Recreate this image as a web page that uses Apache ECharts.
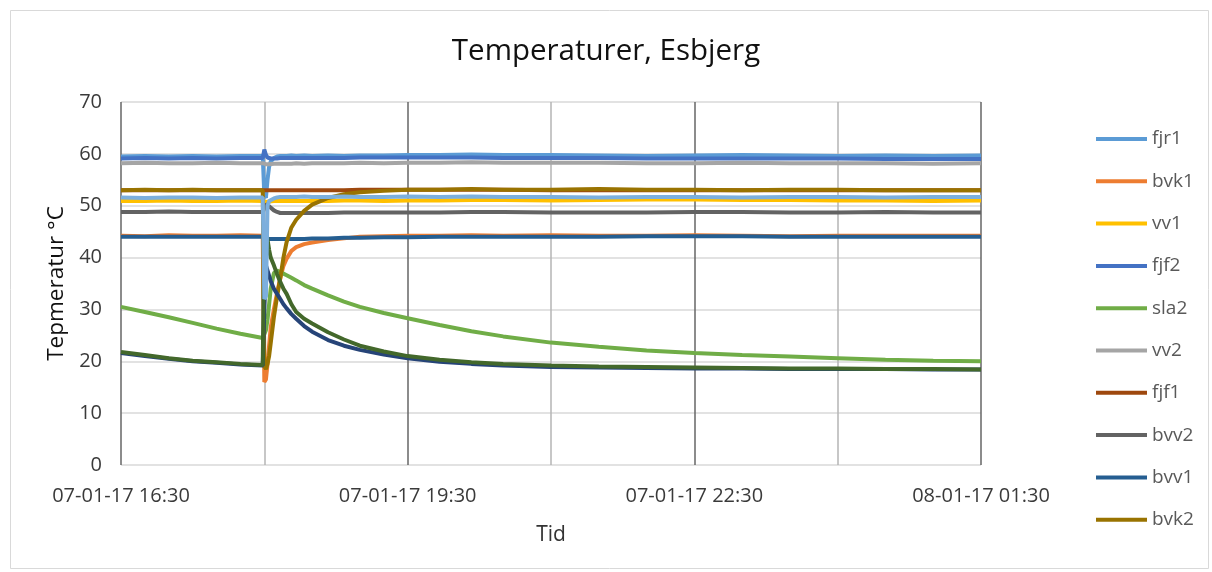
<!DOCTYPE html>
<html>
<head>
<meta charset="utf-8">
<script src="https://cdn.jsdelivr.net/npm/echarts@6/dist/echarts.min.js"></script>
<style>
html,body{margin:0;padding:0;background:#fff;}
#c{width:1212px;height:572px;}
</style>
</head>
<body>
<div id="c"></div>
<script>
// time in minutes after 07-01-17 16:30
const times = [0,15,30,45,60,75,89,90,91,92,93,94,96,98,100,102,104,107,110,115,120,130,140,150,165,180,200,220,240,270,300,330,360,390,420,450,480,510,540];
const tickLabels = ['07-01-17 16:30','07-01-17 19:30','07-01-17 22:30','08-01-17 01:30'];

const fjr1 = [59.5,59.6,59.5,59.6,59.5,59.6,59.6, 52,51.5,55,57.5,58.5, 59.2,59.5,59.6,59.6,59.6, 59.7,59.6,59.7,59.6, 59.7,59.6,59.7,59.7,59.8, 59.8,59.9,59.8,59.8,59.7, 59.6,59.7,59.8,59.7,59.6, 59.7,59.6,59.7];
const bvk1 = [44.2,44.1,44.3,44.2,44.2,44.3,44.2, 16,16.5,19.5,23,26.5, 30,33.2,36,38.4,39.8, 41.3,42,42.6,42.9, 43.4,43.7,44,44.1,44.2, 44.2,44.3,44.2,44.3,44.2, 44.2,44.3,44.2,44.1,44.2, 44.2,44.2,44.2];
const vv1 = [50.9,50.9,51.0,50.9,50.9,51.0,50.9, 50.8,50.7,50.7,50.8,50.8, 50.9,50.9,50.9,50.9,50.9, 50.9,50.9,50.9,50.9, 50.9,51.0,51.0,50.9,51.0, 51.0,51.1,51.1,51.0,51.1, 51.2,51.2,51.1,51.1,51.0, 51.0,50.9,51.0];
const fjf2 = [59.1,59.2,59.1,59.2,59.1,59.2,59.2, 60.8,59.8,59.3,59.2,59.1, 59.1,59.1,59.2,59.2,59.2, 59.2,59.2,59.2,59.2, 59.2,59.2,59.3,59.3,59.3, 59.3,59.3,59.2,59.2,59.2, 59.1,59.1,59.1,59.1,59.1, 59.0,59.0,59.0];
const sla2 = [30.5,29.5,28.5,27.4,26.3,25.3,24.5, 24.4,26,28,31,34, 37,37.5,37.2,36.9,36.6, 36.1,35.6,34.7,34, 32.7,31.5,30.5,29.3,28.3, 27,25.8,24.8,23.6,22.8, 22.1,21.6,21.2,20.9,20.6, 20.3,20.1,20.0];
const vv2 = [58.2,58.3,58.2,58.2,58.3,58.2,58.2, 58.1,58.0,58.0,58.0,58.1, 58.1,58.1,58.1,58.1,58.1, 58.1,58.2,58.1,58.2, 58.2,58.2,58.3,58.2,58.3, 58.3,58.4,58.3,58.3,58.3, 58.2,58.2,58.3,58.2,58.2, 58.2,58.1,58.2];
const fjf1 = [53.0,53.0,53.0,53.0,53.0,53.0,53.0, 53.0,53.0,53.0,53.0,53.0, 53.0,53.0,53.0,53.0,53.0, 53.0,53.0,53.0,53.0, 53.0,53.0,53.1,53.1,53.1, 53.1,53.1,53.1,53.0,53.0, 53.0,53.0,53.0,53.0,53.0, 53.0,53.0,53.0];
const bvv2 = [48.8,48.8,48.9,48.8,48.8,48.8,48.8, 49.5,50.3,50.2,49.9,49.6, 49.1,48.8,48.6,48.6,48.6, 48.6,48.6,48.6,48.6, 48.6,48.7,48.7,48.7,48.7, 48.7,48.8,48.8,48.7,48.7, 48.7,48.8,48.8,48.7,48.7, 48.8,48.7,48.7];
const bvv1 = [44.0,44.0,44.0,44.0,44.0,44.0,44.0, 43.8,43.6,43.6,43.6,43.6, 43.6,43.6,43.6,43.6,43.6, 43.6,43.6,43.6,43.7, 43.7,43.8,43.8,43.9,43.9, 44.0,44.0,44.0,44.0,44.0, 44.1,44.1,44.1,44.0,44.0, 44.0,44.0,44.0];
const bvk2 = [53.0,53.1,53.0,53.1,53.0,53.0,53.0, 19,18.5,19.5,21,23.5, 28.5,32.5,36,40,43, 45.8,47.3,49,50.2, 51.5,52.2,52.6,52.9,53.1, 53.1,53.2,53.1,53.1,53.2, 53.1,53.1,53.0,53.1,53.1, 53.0,53.0,53.0];
const serie11 = [21.6,21.0,20.5,20.0,19.7,19.4,19.2, 30,38.5,37.5,36.5,35.5, 34,33,32,31,30.2, 29.1,28.2,26.8,25.7, 24.1,23.0,22.2,21.3,20.6, 19.9,19.5,19.2,18.9,18.8, 18.7,18.6,18.6,18.5,18.5, 18.5,18.4,18.4];
const serie12 = [21.8,21.2,20.6,20.1,19.8,19.5,19.3, 46,45,43.5,41.5,40, 38.5,36.8,35.3,34,33, 31,29.5,28.2,27.3, 25.6,24.2,23,21.9,21, 20.3,19.8,19.5,19.2,19, 18.9,18.8,18.7,18.6,18.6, 18.5,18.5,18.4];
const serie13 = [51.6,51.5,51.6,51.6,51.5,51.6,51.6, 32,32.5,50,50.9,51.1, 51.4,51.6,51.7,51.7,51.7, 51.7,51.7,51.8,51.7, 51.7,51.8,51.7,51.7,51.8, 51.7,51.8,51.7,51.7,51.6, 51.7,51.7,51.6,51.7,51.7, 51.6,51.7,51.7];

const legendNames = ['fjr1','bvk1','vv1','fjf2','sla2','vv2','fjf1','bvv2','bvv1','bvk2'];
const seriesList = [
  ['fjr1', fjr1, '#5B9BD5'],
  ['bvk1', bvk1, '#ED7D31'],
  ['vv1', vv1, '#FFC000'],
  ['fjf2', fjf2, '#4472C4'],
  ['sla2', sla2, '#70AD47'],
  ['vv2', vv2, '#A5A5A5'],
  ['fjf1', fjf1, '#9E480E'],
  ['bvv2', bvv2, '#636363'],
  ['bvv1', bvv1, '#255E91'],
  ['bvk2', bvk2, '#997300'],
  ['serie11', serie11, '#264478'],
  ['serie12', serie12, '#43682B'],
  ['serie13', serie13, '#7CAFDD']
];

const chart = echarts.init(document.getElementById('c'), null, {renderer:'canvas'});
const FONT = 'Open Sans';
chart.setOption({
  animation: false,
  backgroundColor: '#fff',
  graphic: [{
    type: 'rect', left: 8, top: 8, shape: {width: 1198, height: 558},
    style: {fill: 'none', stroke: '#d9d9d9', lineWidth: 1}, silent: true, z: -10
  }],
  title: {
    text: 'Temperaturer, Esbjerg', left: 'center', top: 32,
    textStyle: {fontFamily: FONT, fontSize: 29.5, fontWeight: 'normal', color: '#111'}
  },
  legend: {
    data: legendNames, orient: 'vertical', left: 1091, top: 124,
    itemWidth: 51, itemHeight: 4, itemGap: 22.3, icon: 'rect',
    textStyle: {fontFamily: FONT, fontSize: 19, color: '#595959', lineHeight: 20}
  },
  grid: {left: 121, right: 231, top: 102, bottom: 107, containLabel: false},
  xAxis: {
    type: 'value', min: 0, max: 540, interval: 90,
    name: 'Tid', nameLocation: 'middle', nameGap: 60,
    nameTextStyle: {fontFamily: FONT, fontSize: 21, color: '#333'},
    axisLine: {show: false}, axisTick: {show: false},
    axisLabel: {
      fontFamily: FONT, fontSize: 20, color: '#3a3a3a', margin: 21,
      formatter: function (v) { return v % 180 === 0 ? tickLabels[v / 180] : ''; }
    },
    splitLine: {show: true, lineStyle: {color: ['#666666', '#b4b4b4'], width: 1.5}}
  },
  yAxis: {
    type: 'value', min: 0, max: 70, interval: 10,
    name: 'Tepmeratur °C', nameLocation: 'middle', nameGap: 51, nameRotate: 90,
    nameTextStyle: {fontFamily: FONT, fontSize: 22.5, color: '#111'},
    axisLine: {show: false}, axisTick: {show: false},
    axisLabel: {fontFamily: FONT, fontSize: 20, color: '#3a3a3a', margin: 19},
    splitLine: {show: true, lineStyle: {color: '#d9d9d9', width: 1.5}}
  },
  series: seriesList.map(function (s) {
    return {
      name: s[0], type: 'line', showSymbol: false, symbol: 'none',
      data: times.map(function (t, i) { return [t, s[1][i]]; }),
      lineStyle: {color: s[2], width: 4}, itemStyle: {color: s[2]},
      emphasis: {disabled: true}
    };
  })
});
</script>
</body>
</html>
